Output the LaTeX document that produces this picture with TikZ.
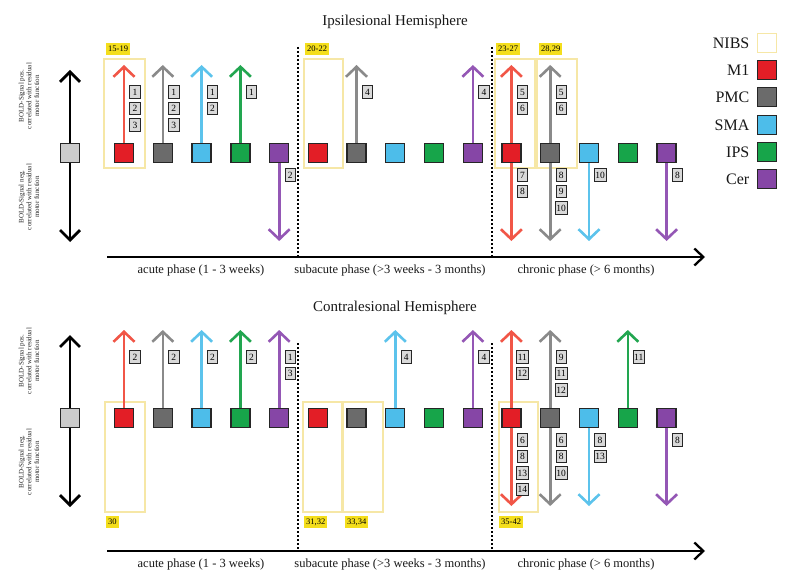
\documentclass[tikz,border=0pt]{standalone}
\usepackage{fontspec}
\setmainfont{Liberation Serif}
\usepackage{xcolor}
\usetikzlibrary{arrows.meta, positioning, calc}

\definecolor{M1sq}{HTML}{E31E26}
\definecolor{PMCsq}{HTML}{6B6B6B}
\definecolor{SMAsq}{HTML}{4DBDEA}
\definecolor{IPSsq}{HTML}{17A54A}
\definecolor{Cersq}{HTML}{8646A6}
\definecolor{M1arr}{HTML}{F15647}
\definecolor{PMCarr}{HTML}{8A8A8A}
\definecolor{SMAarr}{HTML}{5CC3EC}
\definecolor{IPSarr}{HTML}{22A650}
\definecolor{Cerarr}{HTML}{9457B5}
\definecolor{nibsyellow}{HTML}{F6E7A6}
\definecolor{refyellow}{HTML}{F4DE1C}

\tikzset{
  region/.style={draw=black!85, line width=1.3pt, minimum size=19pt, inner sep=0pt},
  tag/.style={draw=black!85, fill=black!15, line width=0.9pt, minimum width=10.5pt,
    minimum height=12.5pt, inner xsep=1.2pt, inner ysep=0.5pt, font=\fontsize{9.5}{9.5}\selectfont},
  refs/.style={fill=refyellow, inner xsep=2pt, inner ysep=1pt, minimum height=11.5pt,
    font=\fontsize{8.5}{8.5}\selectfont},
  nibs/.style={draw=nibsyellow, line width=1.5pt},
  sig/.style={line width=2.6pt, -{Straight Barb[length=10pt,width=21pt]}},
  axis/.style={line width=2.8pt, {Straight Barb[length=10pt,width=20pt]}-{Straight Barb[length=10pt,width=20pt]}},
  timeline/.style={line width=2.3pt, -{Straight Barb[length=9pt,width=17pt]}},
  border/.style={dotted, line width=2pt},
  axlab/.style={rotate=90, align=center, text=black!85, font=\fontsize{7}{7.8}\selectfont},
  phase/.style={text=black!90, font=\fontsize{12.5}{13}\selectfont},
  title/.style={text=black!90, font=\fontsize{15}{15}\selectfont},
  legend/.style={text=black!90, font=\fontsize{16}{16}\selectfont}
}

\begin{document}
\begin{tikzpicture}[x=1pt, y=-1pt]
  \useasboundingbox[fill=white] (0,0) rectangle (790,575);

  % tag stacks above / below a region square
  \def\upstack#1#2{\foreach \n [count=\m] in {#2}
    \node[tag] (#1-u\m) at ($(#1)+(11,{-77.5+16.5*\m})$) {\n};}
  \def\dnstack#1#2{\foreach \n [count=\m] in {#2}
    \node[tag] (#1-d\m) at ($(#1)+(11,{5.5+16.5*\m})$) {\n};}
  \def\up#1#2{\draw[sig, #2arr] (#1.north) -- (#1-top);}
  \def\dn#1#2{\draw[sig, #2arr] (#1.south) -- (#1-bot);}

  % titles, time axes and phase borders
  \node[title] (ipTitle) at (395,22) {Ipsilesional Hemisphere};
  \node[title] (coTitle) at (395,308) {Contralesional Hemisphere};

  \foreach \p/\ty/\dy in {ip/257/47, co/551/343}{
    \coordinate (\p-tl0) at (107,\ty);
    \coordinate (\p-tl1) at (705,\ty);
    \draw[timeline] (\p-tl0) -- (\p-tl1);
    \coordinate (\p-b1top) at (298,\dy);
    \coordinate (\p-b1bot) at (298,\ty);
    \coordinate (\p-b2top) at (492,\dy);
    \coordinate (\p-b2bot) at (492,\ty);
    \draw[border] (\p-b1top) -- (\p-b1bot);
    \draw[border] (\p-b2top) -- (\p-b2bot);
    \node[phase] (\p-acute) at (201,\ty+13) {acute phase (1 - 3 weeks)};
    \node[phase] (\p-subacute) at (390,\ty+13) {subacute phase (>3 weeks - 3 months)};
    \node[phase] (\p-chronic) at (586,\ty+13) {chronic phase (> 6 months)};
  }

  % reference axis with grey square
  \foreach \p/\y in {ip/153, co/418}{
    \coordinate (\p-axtop) at (70,\y-83);
    \coordinate (\p-axbot) at (70,\y+89);
    \draw[axis] (\p-axbot) -- (\p-axtop);
    \node[region, fill=black!20] (\p-ref) at (70,\y) {};
    \node[axlab] (\p-pos) at (29,\y-57) {BOLD-Signal pos.\\correlated with residual\\motor function};
    \node[axlab] (\p-neg) at (29,\y+44) {BOLD-Signal neg.\\correlated with residual\\motor function};
  }

  % region squares: acute (a), subacute (b), chronic (c)
  \foreach \p/\y in {ip/153, co/418}{
    \foreach \ph [count=\g from 0] in {a,b,c}{
      \foreach \reg [count=\k from 0] in {M1,PMC,SMA,IPS,Cer}{
        \node[region, fill=\reg sq] (\p\reg\ph) at ({124+193.7*\g+38.8*\k},\y) {};
        \coordinate (\p\reg\ph-top) at ({124+193.7*\g+38.8*\k},\y-88);
        \coordinate (\p\reg\ph-bot) at ({124+193.7*\g+38.8*\k},\y+88);
      }
    }
  }

  % NIBS studies
  \draw[nibs] (104,59) rectangle (145,168);
  \node[refs, anchor=south west] (nibs1) at (106,55) {15-19};
  \draw[nibs] (304,59) rectangle (343,168);
  \node[refs, anchor=south west] (nibs2) at (305,55) {20-22};
  \draw[nibs] (495,59) rectangle (535,168);
  \node[refs, anchor=south west] (nibs3) at (496,55) {23-27};
  \draw[nibs] (537,59) rectangle (577,168);
  \node[refs, anchor=south west] (nibs4) at (539,55) {28,29};

  \draw[nibs] (105,402) rectangle (145,512);
  \node[refs, anchor=north west] (nibs5) at (106,516) {30};
  \draw[nibs] (303,402) rectangle (342,512);
  \node[refs, anchor=north west] (nibs6) at (304,516) {31,32};
  \draw[nibs] (343,402) rectangle (383,512);
  \node[refs, anchor=north west] (nibs7) at (345,516) {33,34};
  \draw[nibs] (499,402) rectangle (538,512);
  \node[refs, anchor=north west] (nibs8) at (499,516) {35-42};

  % ipsilesional
  \up{ipM1a}{M1}   \upstack{ipM1a}{1,2,3}
  \up{ipPMCa}{PMC} \upstack{ipPMCa}{1,2,3}
  \up{ipSMAa}{SMA} \upstack{ipSMAa}{1,2}
  \up{ipIPSa}{IPS} \upstack{ipIPSa}{1}
  \dn{ipCera}{Cer} \dnstack{ipCera}{2}
  \up{ipPMCb}{PMC} \upstack{ipPMCb}{4}
  \up{ipCerb}{Cer} \upstack{ipCerb}{4}
  \up{ipM1c}{M1}   \upstack{ipM1c}{5,6}
  \dn{ipM1c}{M1}   \dnstack{ipM1c}{7,8}
  \up{ipPMCc}{PMC} \upstack{ipPMCc}{5,6}
  \dn{ipPMCc}{PMC} \dnstack{ipPMCc}{8,9,10}
  \dn{ipSMAc}{SMA} \dnstack{ipSMAc}{10}
  \dn{ipCerc}{Cer} \dnstack{ipCerc}{8}

  % contralesional
  \up{coM1a}{M1}   \upstack{coM1a}{2}
  \up{coPMCa}{PMC} \upstack{coPMCa}{2}
  \up{coSMAa}{SMA} \upstack{coSMAa}{2}
  \up{coIPSa}{IPS} \upstack{coIPSa}{2}
  \up{coCera}{Cer} \upstack{coCera}{1,3}
  \up{coSMAb}{SMA} \upstack{coSMAb}{4}
  \up{coCerb}{Cer} \upstack{coCerb}{4}
  \up{coM1c}{M1}   \upstack{coM1c}{11,12}
  \dn{coM1c}{M1}   \dnstack{coM1c}{6,8,13,14}
  \up{coPMCc}{PMC} \upstack{coPMCc}{9,11,12}
  \dn{coPMCc}{PMC} \dnstack{coPMCc}{6,8,10}
  \dn{coSMAc}{SMA} \dnstack{coSMAc}{8,13}
  \up{coIPSc}{IPS} \upstack{coIPSc}{11}
  \dn{coCerc}{Cer} \dnstack{coCerc}{8}

  % legend
  \node[region, fill=white, draw=nibsyellow] (lgNIBS) at (767,43) {};
  \node[legend, left=4pt of lgNIBS] (lgNIBStext) {NIBS};
  \foreach \reg/\y in {M1/70, PMC/97, SMA/125, IPS/152, Cer/179}{
    \node[region, fill=\reg sq] (lg\reg) at (767,\y) {};
    \node[legend, left=4pt of lg\reg] (lg\reg text) {\reg};
  }
\end{tikzpicture}
\end{document}
